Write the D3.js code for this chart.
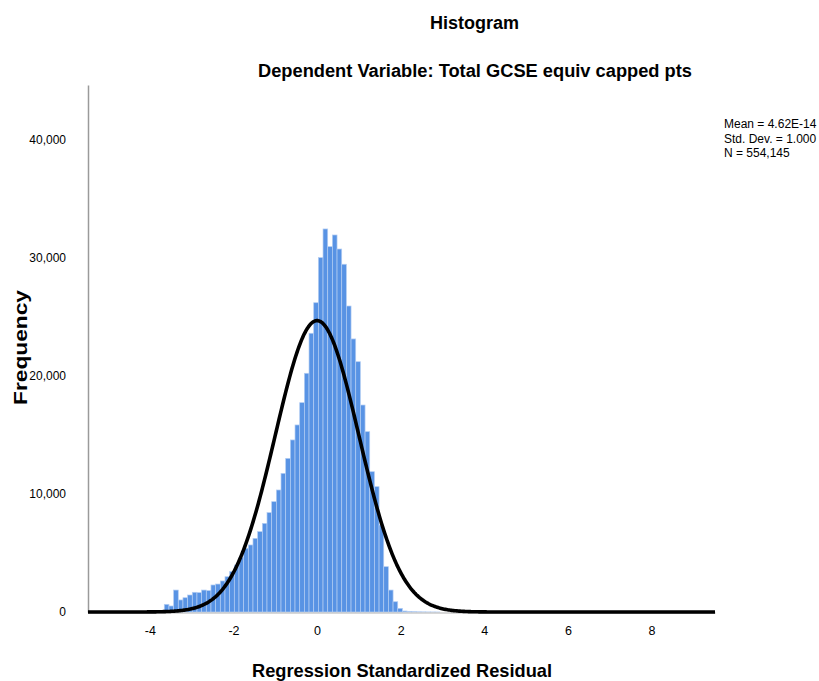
<!DOCTYPE html>
<html>
<head>
<meta charset="utf-8">
<script src="https://cdn.jsdelivr.net/npm/d3@7"></script>
<style>
  html, body { margin: 0; padding: 0; background: #fff; }
  svg { display: block; }
  text { font-family: Arial, "Liberation Sans", sans-serif; fill: #000; }
</style>
</head>
<body>
<svg id="chart" width="819" height="681"></svg>
<script>
// ---- data ----
const binStart = -3.655;     // lower edge of first bin (residual units)
const binWidth = 0.1117;     // histogram bin width
const counts = [650, 510, 1860, 1020, 1210, 1440, 1670, 1640, 1860, 1810,
  2290, 2370, 2630, 2990, 3420, 3980, 4630, 5400, 5680, 6240,
  6810, 7510, 8420, 9350, 10340, 11750, 13020, 14580, 15850, 17740,
  20230, 23620, 26210, 30030, 32460, 30960, 31950, 30760, 29470, 25930,
  23140, 21210, 17540, 15280, 11890, 10620, 7370, 3840, 1860, 870,
  310, 85, 40, 25, 15, 10, 6, 4, 2];
const xTicks = [-4, -2, 0, 2, 4, 6, 8];
const xTickLabels = ["-4", "-2", "0", "2", "4", "6", "8"];
const yTicks = [0, 10000, 20000, 30000, 40000];
const yTickLabels = ["0", "10,000", "20,000", "30,000", "40,000"];
const stats = { mean: 4.62e-14, sd: 1.0, n: 554145 };
const legendLines = ["Mean = 4.62E-14", "Std. Dev. = 1.000", "N = 554,145"];
const titleText = "Histogram";
const subtitleText = "Dependent Variable: Total GCSE equiv capped pts";
const xLabel = "Regression Standardized Residual";
const yLabel = "Frequency";

// ---- layout ----
const svg = d3.select("#chart");
const x = d3.scaleLinear().domain([-5.48, 9.52]).range([88, 715]);
const y = d3.scaleLinear().domain([0, 44660]).range([612, 85]);

const bins = counts.map((c, i) => ({ x0: binStart + i * binWidth, x1: binStart + (i + 1) * binWidth, c }));

// bars
svg.append("g").selectAll("rect").data(bins).join("rect")
  .attr("x", d => x(d.x0))
  .attr("width", d => x(d.x1) - x(d.x0))
  .attr("y", d => y(d.c))
  .attr("height", d => y(0) - y(d.c))
  .attr("fill", "#5893e4")
  .attr("stroke", "#b3cdf3")
  .attr("stroke-width", 0.7);

// axes
const yAxis = d3.axisLeft(y).tickValues(yTicks).tickFormat((d, i) => yTickLabels[i])
  .tickSize(0).tickSizeOuter(0).tickPadding(22);
const gy = svg.append("g").attr("transform", "translate(88,0)").call(yAxis);
gy.select(".domain").attr("stroke", "#9a9a9a").attr("stroke-width", 1.5);
gy.selectAll("text").attr("font-size", 12).attr("font-family", "Arial, 'Liberation Sans', sans-serif");

const xAxis = d3.axisBottom(x).tickValues(xTicks).tickFormat((d, i) => xTickLabels[i])
  .tickSize(0).tickSizeOuter(0).tickPadding(14);
const gx = svg.append("g").attr("transform", "translate(0,612.5)").call(xAxis);
gx.select(".domain").attr("stroke", "#b0b0b0").attr("stroke-width", 1.2);
gx.selectAll("text").attr("font-size", 12.5).attr("font-family", "Arial, 'Liberation Sans', sans-serif");

// normal curve from the stated mean / sd / N
const pdf = v => Math.exp(-0.5 * Math.pow((v - stats.mean) / stats.sd, 2)) / (stats.sd * Math.sqrt(2 * Math.PI));
const xs = d3.range(0, 601).map(i => x.domain()[0] + (x.domain()[1] - x.domain()[0]) * i / 600);
const line = d3.line().x(v => x(v)).y(v => y(stats.n * binWidth * pdf(v))).curve(d3.curveLinear);
svg.append("path").datum(xs).attr("d", line)
  .attr("fill", "none").attr("stroke", "#000").attr("stroke-width", 3.6)
  .attr("stroke-linejoin", "round");

// titles
function fitText(sel, w) { sel.attr("textLength", w).attr("lengthAdjust", "spacingAndGlyphs"); }
fitText(svg.append("text").attr("x", 474.5).attr("y", 29).attr("text-anchor", "middle")
  .attr("font-size", 18).attr("font-weight", "bold").text(titleText), 89);
fitText(svg.append("text").attr("x", 475).attr("y", 77).attr("text-anchor", "middle")
  .attr("font-size", 18).attr("font-weight", "bold").text(subtitleText), 434);
fitText(svg.append("text").attr("x", 402).attr("y", 677).attr("text-anchor", "middle")
  .attr("font-size", 19).attr("font-weight", "bold").text(xLabel), 300);
fitText(svg.append("text").attr("transform", "translate(27,347.5) rotate(-90)").attr("text-anchor", "middle")
  .attr("font-size", 19).attr("font-weight", "bold").text(yLabel), 115);

// legend
svg.append("g").selectAll("text").data(legendLines).join("text")
  .attr("x", 724).attr("y", (d, i) => 128 + i * 14.5)
  .attr("font-size", 12).text(d => d);
</script>
</body>
</html>
